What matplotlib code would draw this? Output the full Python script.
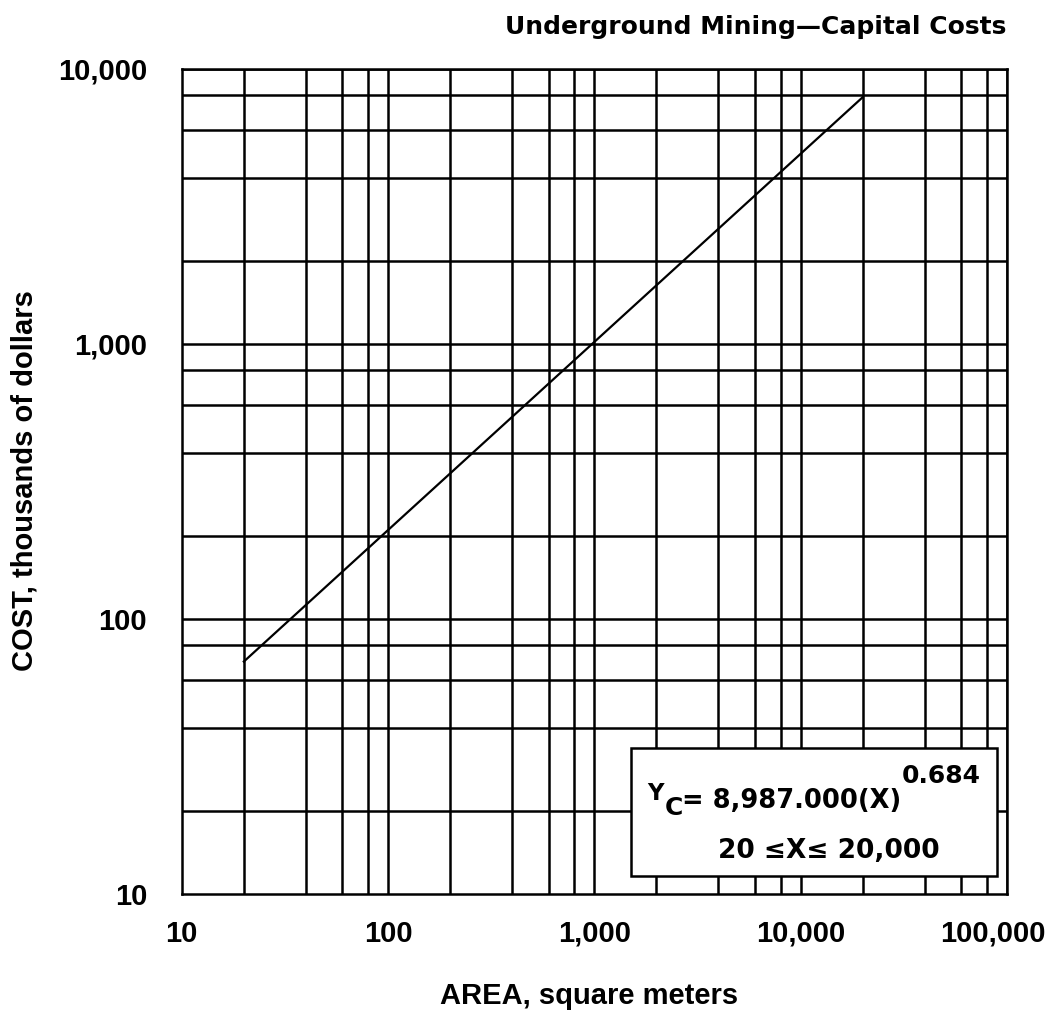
import matplotlib
matplotlib.use("Agg")
import matplotlib.pyplot as plt
from matplotlib.patches import Rectangle
from matplotlib.ticker import NullLocator
from matplotlib.transforms import ScaledTranslation

# Cost curve: Yc = 8,987.000 (X)^0.684 dollars  ->  thousands of dollars
coef_thousands = 8.987
exponent = 0.684
area_range = [20, 20000]          # square meters, 20 <= X <= 20,000

# Axis ticks and labels
x_ticks = [10, 100, 1000, 10000, 100000]
x_tick_labels = ["10", "100", "1,000", "10,000", "100,000"]
y_ticks = [10, 100, 1000, 10000]
y_tick_labels = ["10", "100", "1,000", "10,000"]

# Grid lines drawn at these multiples of every decade
grid_multiples = [2, 4, 6, 8, 10]
x_decades = [10, 100, 1000, 10000]
y_decades = [10, 100, 1000]

title = "Underground Mining\u2014Capital Costs"
x_label = "AREA, square meters"
y_label = "COST, thousands of dollars"
eq_symbol = "Y"
eq_subscript = "C"
eq_body = "= 8,987.000(X)"
eq_power = "0.684"
eq_range = "20 \u2264X\u2264 20,000"

plt.rcParams["font.family"] = ["Liberation Sans", "DejaVu Sans"]
plt.rcParams["font.weight"] = "bold"

fig = plt.figure(figsize=(10.56, 10.14), dpi=100)
ax = fig.add_axes([0.1721, 0.1188, 0.7813, 0.8136])
ax.set_xscale("log")
ax.set_yscale("log")
ax.set_xlim(10, 100000)
ax.set_ylim(10, 10000)

lw = 1.8
for d in x_decades:
    for m in grid_multiples:
        ax.axvline(d * m, color="black", lw=lw, zorder=1)
for d in y_decades:
    for m in grid_multiples:
        ax.axhline(d * m, color="black", lw=lw, zorder=1)

for s in ax.spines.values():
    s.set_linewidth(lw)
    s.set_zorder(5)

# Cost line
xs = area_range
ys = [coef_thousands * x ** exponent for x in xs]
ax.plot(xs, ys, color="black", lw=1.6, zorder=3)

ax.xaxis.set_minor_locator(NullLocator())
ax.yaxis.set_minor_locator(NullLocator())
ax.set_xticks(x_ticks, x_tick_labels)
ax.set_yticks(y_ticks, y_tick_labels)
ax.tick_params(axis="x", length=0, pad=19, labelsize=21)
ax.tick_params(axis="y", length=0, pad=25, labelsize=21)
# keep the right-most label inside the figure
last = ax.get_xticklabels()[-1]
last.set_transform(last.get_transform()
                   + ScaledTranslation(-10 / 72, 0, fig.dpi_scale_trans))

# Equation box
box = Rectangle((0.544, 0.021), 0.444, 0.156, transform=ax.transAxes,
                facecolor="white", edgecolor="black", lw=lw, zorder=4)
ax.add_patch(box)
eq_kw = dict(transform=ax.transAxes, ha="left", va="baseline", zorder=6,
             family="DejaVu Sans", weight="bold")
ax.text(0.5636, 0.1138, eq_symbol, fontsize=16.5, **eq_kw)
ax.text(0.586, 0.0954, eq_subscript, fontsize=18, **eq_kw)
ax.text(0.6068, 0.1036, eq_body, fontsize=18.5, **eq_kw)
ax.text(0.8724, 0.1337, eq_power, fontsize=18, **eq_kw)
ax.text(0.7845, 0.0425, eq_range, transform=ax.transAxes, fontsize=19,
        ha="center", va="baseline", zorder=6,
        family="DejaVu Sans", weight="bold")

ax.text(1.0, 1.05, title, transform=ax.transAxes, fontsize=18,
        ha="right", va="center", family="DejaVu Sans", weight="bold")
ax.text(0.494, -0.124, x_label, transform=ax.transAxes, fontsize=21,
        ha="center", va="center")
ax.text(-0.190, 0.5, y_label, transform=ax.transAxes, fontsize=21,
        ha="center", va="center", rotation=90)

fig.savefig("out.png", dpi=100, facecolor="white")
